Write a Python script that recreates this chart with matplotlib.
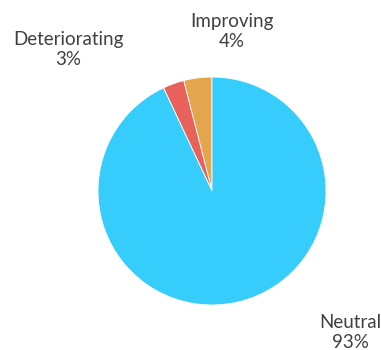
import matplotlib.pyplot as plt

labels = ["Improving", "Deteriorating", "Neutral"]
shares = [4, 3, 93]
colors = ["#E4A54F", "#E8615B", "#36CCFC"]
# where each label sits, in pie-radius units from the centre
label_pos = [(0.175, 1.40), (-1.26, 1.24), (1.21, -1.24)]

plt.rcParams["font.family"] = ["Lato", "DejaVu Sans"]

fig = plt.figure(figsize=(3.81, 3.5), dpi=100)
ax = fig.add_axes([98 / 381, 45 / 350, 228 / 381, 228 / 350])
ax.pie(
    shares,
    colors=colors,
    startangle=90,
    counterclock=True,
    radius=1.0,
    wedgeprops={"edgecolor": "white", "linewidth": 0.6},
)
ax.set_xlim(-1, 1)
ax.set_ylim(-1, 1)
ax.set_aspect("equal")
ax.axis("off")

for name, val, (x, y) in zip(labels, shares, label_pos):
    ax.text(
        x, y, f"{name}\n{val}%",
        ha="center", va="center", fontsize=13.5, color="#404040",
        linespacing=1.2, clip_on=False,
    )

fig.savefig("out.png", dpi=100)
